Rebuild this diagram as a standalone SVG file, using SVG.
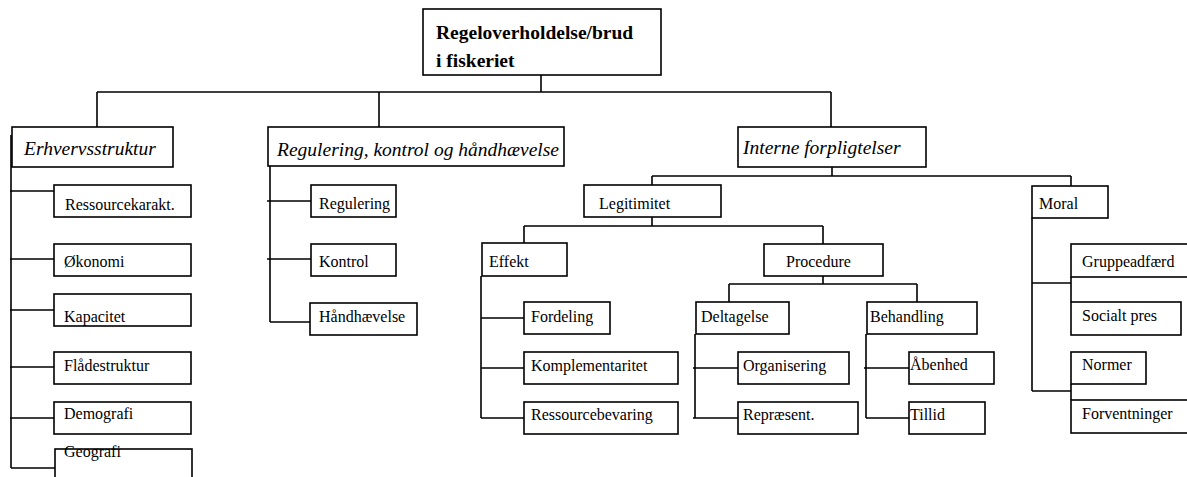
<svg xmlns="http://www.w3.org/2000/svg" width="1187" height="477" viewBox="0 0 1187 477">
<style>
rect{fill:#fff;stroke:#000;stroke-width:1.6}
.c path{fill:none;stroke:#000;stroke-width:1.6}
text{fill:#000;font-size:16px}
.h{font-style:italic;font-size:19.5px}
.r{font-weight:bold;font-size:19.5px}
</style>
<rect x="0" y="0" width="1187" height="477" style="fill:#fff;stroke:none"/>
<g class="c" id="connectors">
<path d="M541 75V92M97 92H831M97 92V127M379 92V127M831 92V127"/>
<path d="M11 135V468M10 191H54M10 259H54M10 310H54M10 367H54M10 418H54M11 468H55"/>
<path d="M270 166V322M267 201H311M267 259H311M270 322H310"/>
<path d="M832 167V176M652 176H1071M652 176V185M1071 176V186"/>
<path d="M652 217V226M524 226H823M524 226V243M823 226V244"/>
<path d="M481 276V418M481 318H524M481 368H524M481 418H524"/>
<path d="M823 276V284M729 284H917M729 284V302M917 284V302"/>
<path d="M695 334V418M693 368H738M693 418H738"/>
<path d="M866 334V418M864 368H909M866 418H909"/>
<path d="M1032 218V391M1032 283H1071M1032 391H1071M1071 277V302M1071 384V400"/>
</g>
<g font-family="'Liberation Serif', 'Times New Roman', serif">
<g id="root"><rect x="423" y="9" width="238" height="66"/><text class="r" x="436" y="39">Regeloverholdelse/brud</text><text class="r" x="436" y="67">i fiskeriet</text></g>
<g id="erhverv"><rect x="12" y="127" width="161" height="40"/><text class="h" x="24" y="155">Erhvervsstruktur</text></g>
<g id="regulering"><rect x="268" y="127" width="296" height="39"/><text class="h" x="277" y="156">Regulering, kontrol og håndhævelse</text></g>
<g id="interne"><rect x="738" y="127" width="188" height="40"/><text class="h" x="743" y="154">Interne forpligtelser</text></g>
<g id="ressourcekarakt"><rect x="54" y="185" width="137" height="32"/><text x="65" y="210">Ressourcekarakt.</text></g>
<g id="okonomi"><rect x="54" y="244" width="137" height="32"/><text x="64" y="267">Økonomi</text></g>
<g id="kapacitet"><rect x="54" y="294" width="137" height="32"/><text x="64" y="322">Kapacitet</text></g>
<g id="fladestruktur"><rect x="54" y="352" width="137" height="32"/><text x="64" y="371">Flådestruktur</text></g>
<g id="demografi"><rect x="54" y="402" width="137" height="32"/><text x="64" y="419">Demografi</text></g>
<g id="geografi"><rect x="55" y="449" width="137" height="40"/><text x="64" y="457">Geografi</text></g>
<g id="reg-regulering"><rect x="311" y="185" width="85" height="32"/><text x="319" y="209">Regulering</text></g>
<g id="kontrol"><rect x="311" y="244" width="85" height="32"/><text x="319" y="267">Kontrol</text></g>
<g id="handhaevelse"><rect x="310" y="303" width="107" height="32"/><text x="319" y="322">Håndhævelse</text></g>
<g id="legitimitet"><rect x="584" y="185" width="137" height="32"/><text x="599" y="209">Legitimitet</text></g>
<g id="moral"><rect x="1032" y="186" width="76" height="32"/><text x="1039" y="209">Moral</text></g>
<g id="effekt"><rect x="482" y="243" width="85" height="33"/><text x="489" y="267">Effekt</text></g>
<g id="procedure"><rect x="764" y="244" width="119" height="32"/><text x="786" y="267">Procedure</text></g>
<g id="fordeling"><rect x="524" y="302" width="86" height="32"/><text x="531" y="322">Fordeling</text></g>
<g id="komplementaritet"><rect x="524" y="352" width="154" height="32"/><text x="531" y="371">Komplementaritet</text></g>
<g id="ressourcebevaring"><rect x="524" y="402" width="154" height="32"/><text x="531" y="420">Ressourcebevaring</text></g>
<g id="deltagelse"><rect x="696" y="302" width="93" height="32"/><text x="701" y="322">Deltagelse</text></g>
<g id="behandling"><rect x="867" y="302" width="110" height="32"/><text x="870" y="322">Behandling</text></g>
<g id="organisering"><rect x="738" y="352" width="111" height="32"/><text x="743" y="371">Organisering</text></g>
<g id="repraesent"><rect x="738" y="402" width="120" height="32"/><text x="743" y="420">Repræsent.</text></g>
<g id="abenhed"><rect x="909" y="352" width="85" height="32"/><text x="910" y="370">Åbenhed</text></g>
<g id="tillid"><rect x="909" y="402" width="76" height="32"/><text x="910" y="420">Tillid</text></g>
<g id="gruppeadfaerd"><rect x="1071" y="244" width="130" height="33"/><text x="1082" y="267">Gruppeadfærd</text></g>
<g id="socialt-pres"><rect x="1071" y="302" width="110" height="33"/><text x="1082" y="321">Socialt pres</text></g>
<g id="normer"><rect x="1071" y="352" width="75" height="32"/><text x="1082" y="370">Normer</text></g>
<g id="forventninger"><rect x="1071" y="400" width="130" height="33"/><text x="1082" y="419">Forventninger</text></g>
</g>
</svg>
